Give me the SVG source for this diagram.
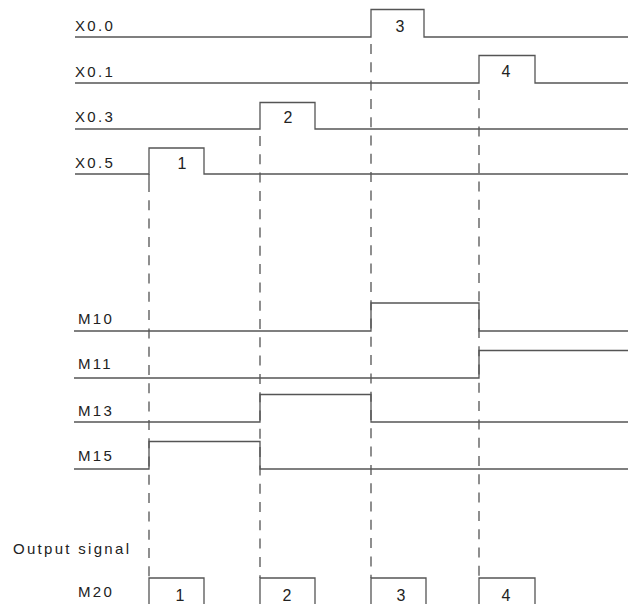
<svg xmlns="http://www.w3.org/2000/svg" width="628" height="604" viewBox="0 0 628 604">
<style>
.sig{fill:none;stroke:#555;stroke-width:1.3}
.dash{fill:none;stroke:#333;stroke-width:1.1;stroke-dasharray:10 8.3}
.lbl{font-family:"Liberation Sans",Arial,sans-serif;font-size:15px;letter-spacing:2.3px;fill:#222}
.num{font-family:"Liberation Sans",Arial,sans-serif;font-size:16px;fill:#222;text-anchor:middle}
</style>
<rect width="628" height="604" fill="#fff"/>
<g id="connectors">
<line class="dash" x1="149" y1="182" x2="149" y2="578"/>
<line class="dash" x1="260" y1="136" x2="260" y2="578"/>
<line class="dash" x1="371" y1="44" x2="371" y2="578"/>
<line class="dash" x1="479" y1="90" x2="479" y2="578"/>
</g>
<g id="X0.0">
<text class="lbl" x="75" y="31">X0.0</text>
<path class="sig" d="M75,37 H371 V9.5 H424 V37 H628"/>
<text class="num" x="400" y="32">3</text>
</g>
<g id="X0.1">
<text class="lbl" x="75" y="77">X0.1</text>
<path class="sig" d="M75,83 H479 V55.5 H535 V83 H628"/>
<text class="num" x="506" y="77">4</text>
</g>
<g id="X0.3">
<text class="lbl" x="75" y="122">X0.3</text>
<path class="sig" d="M75,129 H260 V102.5 H315 V129 H628"/>
<text class="num" x="288" y="123">2</text>
</g>
<g id="X0.5">
<text class="lbl" x="75" y="168">X0.5</text>
<path class="sig" d="M75,174 H149 V148 H204 V174 H628"/>
<path class="sig" d="M149,174 V182"/>
<text class="num" x="182" y="169">1</text>
</g>
<g id="M10">
<text class="lbl" x="78" y="324">M10</text>
<path class="sig" d="M74,331 H371 V303 H479 V331 H628"/>
</g>
<g id="M11">
<text class="lbl" x="78" y="369">M11</text>
<path class="sig" d="M74,378 H479 V350.5 H628"/>
</g>
<g id="M13">
<text class="lbl" x="78" y="416">M13</text>
<path class="sig" d="M74,422 H260 V394.5 H371 V422 H628"/>
</g>
<g id="M15">
<text class="lbl" x="78" y="461">M15</text>
<path class="sig" d="M74,469 H149 V441.5 H260 V469 H628"/>
</g>
<g id="output">
<text class="lbl" x="13" y="554">Output signal</text>
</g>
<g id="M20">
<text class="lbl" x="78" y="597">M20</text>
<path class="sig" d="M149,604 V578 H204 V604"/>
<path class="sig" d="M260,604 V578 H315 V604"/>
<path class="sig" d="M371,604 V578 H426 V604"/>
<path class="sig" d="M479,604 V578 H535 V604"/>
<text class="num" x="180" y="601">1</text>
<text class="num" x="287" y="601">2</text>
<text class="num" x="401" y="601">3</text>
<text class="num" x="506" y="601">4</text>
</g>
</svg>
